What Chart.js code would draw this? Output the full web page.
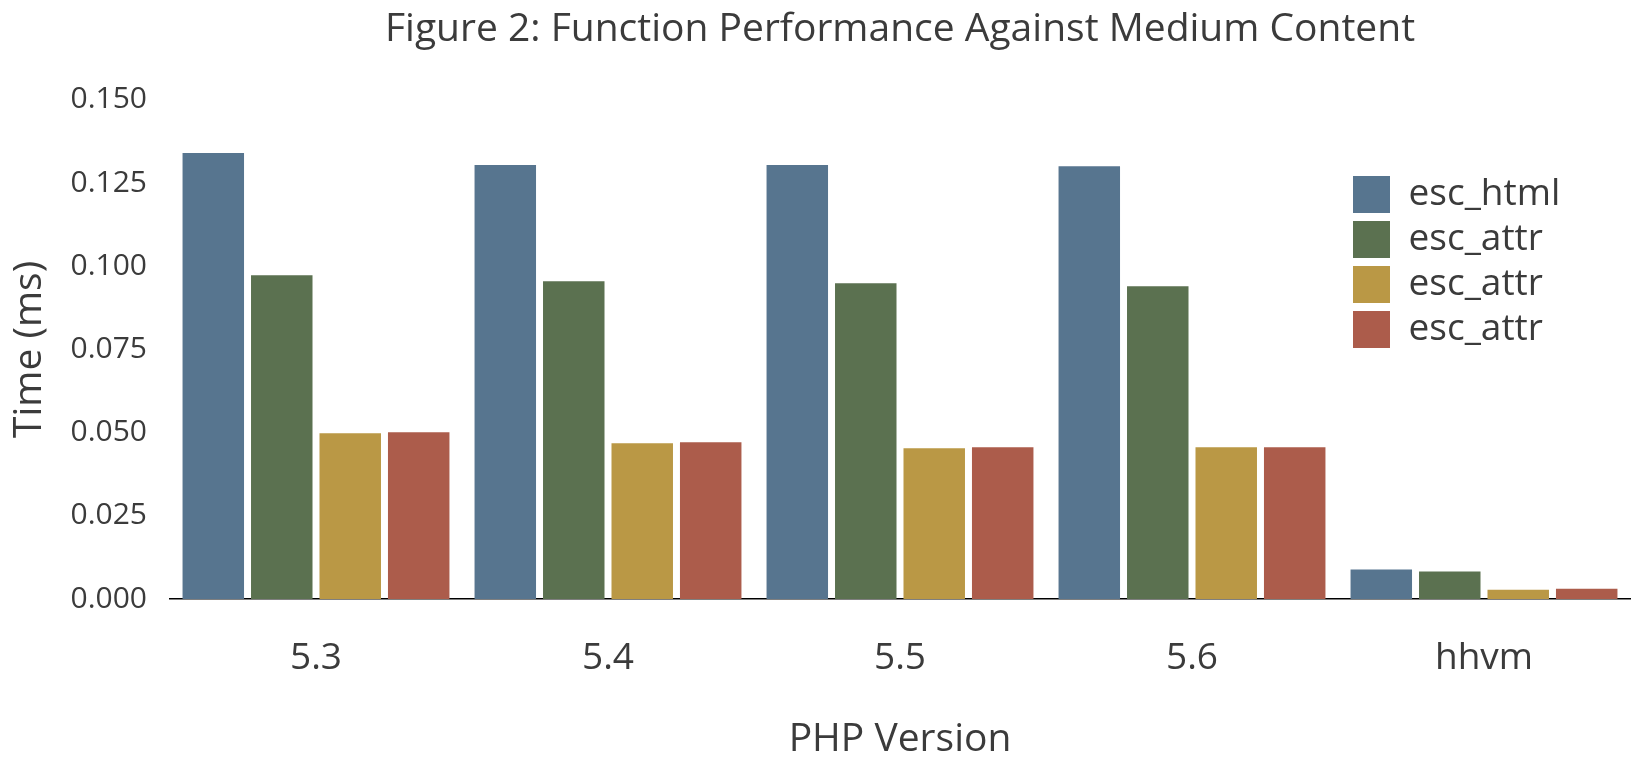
<!DOCTYPE html>
<html>
<head>
<meta charset="utf-8">
<script src="https://cdn.jsdelivr.net/npm/chart.js@4.4.1/dist/chart.umd.min.js"></script>
<style>
  html, body { margin: 0; padding: 0; background: #ffffff; }
  #wrap { width: 1631px; height: 763px; position: relative; }
</style>
</head>
<body>
<div id="wrap"><canvas id="c"></canvas></div>
<script>
const categories = ['5.3', '5.4', '5.5', '5.6', 'hhvm'];
const seriesNames = ['esc_html', 'esc_attr', 'esc_attr', 'esc_attr'];
const escHtml   = [0.1340, 0.1304, 0.1304, 0.1300, 0.0089];
const escAttrA  = [0.0973, 0.0955, 0.0949, 0.0940, 0.0083];
const escAttrB  = [0.0498, 0.0468, 0.0453, 0.0456, 0.0028];
const escAttrC  = [0.0501, 0.0471, 0.0456, 0.0456, 0.0031];
const yTicks = [0, 0.025, 0.05, 0.075, 0.1, 0.125, 0.15];
const colors = ['#57758f', '#5b7150', '#ba9845', '#ac5c4b'];

const FONT = "'Open Sans', 'Noto Sans', sans-serif";
const TEXT = '#3b3b3b';

const seriesValues = [escHtml, escAttrA, escAttrB, escAttrC];
const datasets = seriesValues.map((vals, i) => ({
  label: seriesNames[i],
  data: vals,
  backgroundColor: colors[i],
  borderWidth: 0,
  categoryPercentage: 0.938,
  barPercentage: 0.898
}));

const legendPlacer = {
  id: 'legendPlacer',
  afterLayout(chart) {
    const lg = chart.legend;
    if (!lg) return;
    const w = lg.width, h = lg.height;
    lg.left = 1345; lg.top = 168;
    lg.right = lg.left + w; lg.bottom = lg.top + h;
    if (lg.adjustHitBoxes) lg.adjustHitBoxes();
  }
};

new Chart(document.getElementById('c'), {
  type: 'bar',
  data: { labels: categories, datasets: datasets },
  plugins: [legendPlacer],
  options: {
    responsive: true,
    maintainAspectRatio: false,
    animation: false,
    layout: { padding: { left: 0, right: 1, top: 0, bottom: 0 } },
    plugins: {
      tooltip: { enabled: false },
      title: {
        display: true,
        fullSize: false,
        text: 'Figure 2: Function Performance Against Medium Content',
        color: TEXT,
        font: { family: FONT, size: 39, weight: 'normal', lineHeight: 1.2 },
        padding: { top: 6, bottom: 47 }
      },
      legend: {
        display: true,
        position: 'chartArea',
        align: 'start',
        labels: {
          color: TEXT,
          font: { family: FONT, size: 37 },
          boxWidth: 37,
          boxHeight: 37,
          padding: 8
        }
      }
    },
    scales: {
      x: {
        grid: { display: false, drawTicks: false },
        border: { display: true, color: '#000000', width: 1.5 },
        ticks: { color: TEXT, font: { family: FONT, size: 37 }, padding: 37 },
        title: {
          display: true, text: 'PHP Version', color: TEXT,
          font: { family: FONT, size: 39, lineHeight: 1 },
          padding: { top: 0, bottom: 4 }
        },
        afterFit(scale) { scale.height = 164; }
      },
      y: {
        min: 0, max: 0.15,
        afterBuildTicks(scale) { scale.ticks = yTicks.map(v => ({ value: v })); },
        grid: { display: false, drawTicks: false },
        border: { display: false },
        ticks: {
          color: TEXT, font: { family: FONT, size: 30 }, padding: 23,
          callback: (v) => Number(v).toFixed(3)
        },
        title: {
          display: true, text: 'Time (ms)', color: TEXT,
          font: { family: FONT, size: 39, lineHeight: 1 },
          padding: { top: 10, bottom: 0 }
        },
        afterFit(scale) { scale.width = 170; }
      }
    }
  }
});
</script>
</body>
</html>
